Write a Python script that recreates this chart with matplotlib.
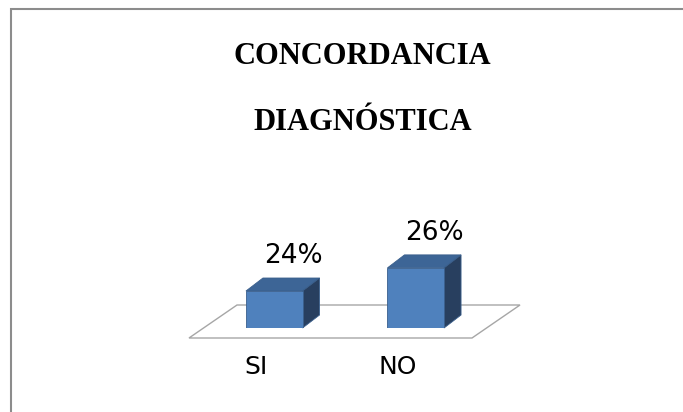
import matplotlib
matplotlib.use("Agg")
import matplotlib.pyplot as plt
from matplotlib.patches import Polygon, Rectangle
from matplotlib.transforms import IdentityTransform

# chart data
categories = ["SI", "NO"]
values = [24, 26]
value_labels = ["24%", "26%"]
title_lines = ["CONCORDANCIA", "DIAGNÓSTICA"]

W, H = 683, 412
DPI = 100
fig = plt.figure(figsize=(W / DPI, H / DPI), dpi=DPI)

# axes in the plane of the bars' front faces (pixel boxes converted to fig coords)
base_val = 20.8
top_val = 30
ax_left, ax_right = 203.5, 486.5
ax_bottom_px = 328
px_per_unit = 11.56
ax_h = (top_val - base_val) * px_per_unit
ax = fig.add_axes([ax_left / W, (H - ax_bottom_px) / H,
                   (ax_right - ax_left) / W, ax_h / H])
ax.set_xlim(-0.5, 1.5)
ax.set_ylim(base_val, top_val)
ax.axis("off")
ax.patch.set_visible(False)
ax.set_zorder(3)

front_col = "#4F81BD"
top_col = "#3D6596"
side_col = "#283F5F"
edge_col = "#3A5F8C"

# depth offsets in pixels (x right, y up)
bar_dx, bar_dy = 17, 13
floor_front = (-14.5, -10)
floor_back = (33.5, 23)

disp = IdentityTransform()


def to_px(x, y):
    return ax.transData.transform((x, y))


# floor
x0, x1 = ax.get_xlim()
pl = to_px(x0, base_val)
pr = to_px(x1, base_val)
floor = [
    (pl[0] + floor_front[0], pl[1] + floor_front[1]),
    (pr[0] + floor_front[0], pr[1] + floor_front[1]),
    (pr[0] + floor_back[0], pr[1] + floor_back[1]),
    (pl[0] + floor_back[0], pl[1] + floor_back[1]),
]
fig.patches.append(Polygon(floor, closed=True, facecolor="white",
                           edgecolor="#A6A6A6", lw=1.0, transform=disp,
                           figure=fig, zorder=1))

width = 0.4
xs = list(range(len(categories)))
bars = ax.bar(xs, [v - base_val for v in values], bottom=base_val, width=width,
              color=front_col, edgecolor=edge_col, linewidth=0.6, zorder=3)

for x, v, lab in zip(xs, values, value_labels):
    bl = to_px(x - width / 2, base_val)
    br = to_px(x + width / 2, base_val)
    tl = to_px(x - width / 2, v)
    tr = to_px(x + width / 2, v)
    top = [tl, tr, (tr[0] + bar_dx, tr[1] + bar_dy), (tl[0] + bar_dx, tl[1] + bar_dy)]
    side = [br, tr, (tr[0] + bar_dx, tr[1] + bar_dy), (br[0] + bar_dx, br[1] + bar_dy)]
    for poly, c in ((top, top_col), (side, side_col)):
        fig.patches.append(Polygon(poly, closed=True, facecolor=c,
                                   edgecolor=edge_col, lw=0.6, transform=disp,
                                   figure=fig, zorder=2))
    cx = (tl[0] + tr[0]) / 2 + 19
    cy = tl[1] + bar_dy + 22
    fig.text(cx / W, cy / H, lab, ha="center", va="center",
             fontsize=19, family="DejaVu Sans", color="black")

for x, cat in zip(xs, categories):
    p = to_px(x, base_val)
    fig.text((p[0] - 18) / W, (H - 367) / H, cat, ha="center", va="center",
             fontsize=18, family="DejaVu Sans", color="black")

# title
fig.text(362.5 / W, (H - 56) / H, title_lines[0], ha="center", va="center",
         fontsize=22, fontweight="bold", family="Liberation Serif")
fig.text(363 / W, (H - 123) / H, title_lines[1], ha="center", va="center",
         fontsize=22, fontweight="bold", family="Liberation Serif")

# outer frame, running off the right and bottom edges
fig.patches.append(Rectangle((10.5 / W, -0.1), 1.0, (H - 8.5) / H + 0.1,
                             transform=fig.transFigure, fill=False,
                             edgecolor="#8C8C8C", lw=1.5, figure=fig))

fig.savefig("out.png", dpi=DPI, facecolor="white")
